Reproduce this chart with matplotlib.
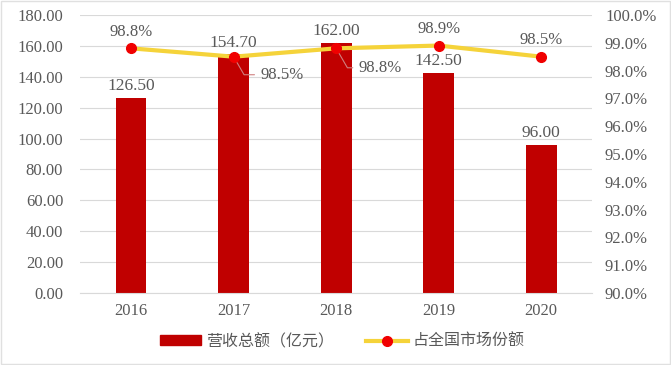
import numpy as np
import matplotlib.pyplot as plt
from matplotlib.patches import Patch
from matplotlib.lines import Line2D
from matplotlib.ticker import FuncFormatter

years = ["2016", "2017", "2018", "2019", "2020"]
revenue = [126.50, 154.70, 162.00, 142.50, 96.00]
share = [98.8, 98.5, 98.8, 98.9, 98.5]

plt.rcParams['font.family'] = ['Liberation Serif', 'Noto Sans CJK SC']
plt.rcParams['font.size'] = 12

BAR = "#C00000"
LINE = "#F5D33A"
DOT = "#F00000"
GRID = "#D9D9D9"
TXT = "#595959"

fig = plt.figure(figsize=(6.71, 3.65), dpi=100)
ax = fig.add_axes([0.119, 0.197, 0.764, 0.762])
x = np.arange(len(years))

ax.bar(x, revenue, width=0.3, color=BAR, zorder=2)
ax.set_xlim(-0.5, 4.5)
ax.set_ylim(0, 180)
ax.set_yticks(np.arange(0, 181, 20))
ax.yaxis.set_major_formatter(FuncFormatter(lambda v, p: f"{v:.2f}"))
ax.set_xticks(x)
ax.set_xticklabels(years)
ax.grid(axis='y', color=GRID, linewidth=0.8, zorder=0)
ax.set_axisbelow(True)
for s in ["top", "right", "left"]:
    ax.spines[s].set_visible(False)
ax.spines["bottom"].set_color(GRID)
ax.tick_params(length=0, colors=TXT, labelsize=12)
ax.tick_params(axis='x', pad=7)
ax.tick_params(axis='y', pad=12)

for xi, v in zip(x, revenue):
    ax.annotate(f"{v:.2f}", (xi, v), xytext=(0, 2.5), textcoords="offset points",
                ha="center", va="bottom", color=TXT, fontsize=12.5)

ax2 = ax.twinx()
ax2.set_ylim(90, 100)
ax2.set_yticks(np.arange(90, 100.1, 1))
ax2.yaxis.set_major_formatter(FuncFormatter(lambda v, p: f"{v:.1f}%"))
for s in ax2.spines.values():
    s.set_visible(False)
ax2.tick_params(length=0, colors=TXT, labelsize=12, pad=9)
ax2.plot(x, share, color=LINE, linewidth=3, zorder=3)
ax2.plot(x, share, linestyle="none", marker="o", markersize=7,
         color=DOT, zorder=4)

# share labels: (dx, dy) in points, leader flag
offsets = [(0, 6, False), (19, -13, True), (16, -14, True), (0, 6, False), (0, 6, False)]
for xi, v, (dx, dy, lead) in zip(x, share, offsets):
    if lead:
        ax2.annotate(f"{v:.1f}%", (xi, v), xytext=(dx, dy), textcoords="offset points",
                     ha="left", va="center", color=TXT, fontsize=12,
                     arrowprops=dict(arrowstyle="-", color="#D08080", lw=0.8,
                                     connectionstyle="angle,angleA=0,angleB=-60,rad=0",
                                     shrinkA=2, shrinkB=0))
    else:
        ax2.annotate(f"{v:.1f}%", (xi, v), xytext=(dx, dy), textcoords="offset points",
                     ha="center", va="bottom", color=TXT, fontsize=12)

handles = [Patch(facecolor=BAR, edgecolor=BAR),
           Line2D([0], [0], color=LINE, linewidth=3, marker="o",
                  markerfacecolor=DOT, markeredgecolor=DOT, markersize=7)]
labels = ["营收总额（亿元）", "占全国市场份额"]
fig.legend(handles, labels, loc="center", bbox_to_anchor=(0.51, 0.063), ncol=2,
           frameon=False, fontsize=11.5, labelcolor=TXT, handlelength=2.6,
           handleheight=0.6, columnspacing=2.0, handletextpad=0.3)

fig.patches.append(plt.Rectangle((0.002, 0.003), 0.996, 0.994, transform=fig.transFigure,
                                 fill=False, edgecolor="#E0E0E0", linewidth=1))

fig.savefig("out.png", dpi=100, facecolor="white")
